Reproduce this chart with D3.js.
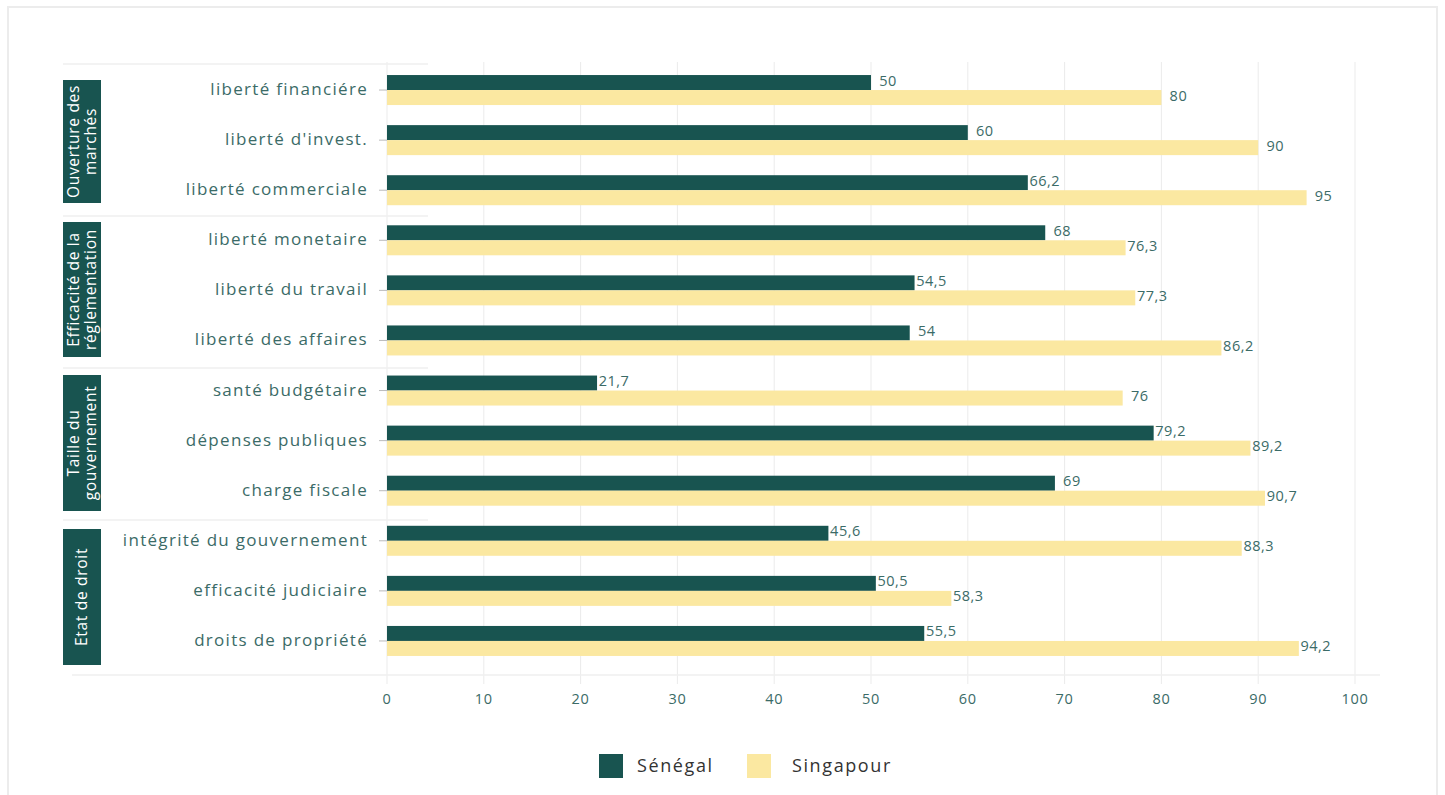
<!DOCTYPE html>
<html>
<head>
<meta charset="utf-8">
<script src="https://cdn.jsdelivr.net/npm/d3@7"></script>
<style>
  body { margin: 0; background: #fff; font-family: "Open Sans", "Noto Sans", sans-serif; }
  .frame { fill: none; stroke: #ececec; stroke-width: 2; }
  .catLabel { fill: #3b6b67; font-size: 17px; letter-spacing: 1.3px; }
  .tickLabel { fill: #3b6b67; font-size: 14.5px; letter-spacing: 0.7px; }
  .valLabel { fill: #3b6b67; font-size: 14.5px; letter-spacing: 0.5px; }
  .groupText { fill: #fff; font-size: 15.5px; letter-spacing: 0.7px; }
  .legendText { fill: #333; font-size: 18px; letter-spacing: 1.6px; }
</style>
</head>
<body>
<div class="chart"></div>
<script>
// data
var groups = ["Ouverture des marchés", "Efficacité de la réglementation", "Taille du gouvernement", "Etat de droit"];
var groupLines = [["Ouverture des", "marchés"], ["Efficacité de la", "réglementation"], ["Taille du", "gouvernement"], ["Etat de droit"]];
var categories = [
  "liberté financiére", "liberté d'invest.", "liberté commerciale",
  "liberté monetaire", "liberté du travail", "liberté des affaires",
  "santé budgétaire", "dépenses publiques", "charge fiscale",
  "intégrité du gouvernement", "efficacité judiciaire", "droits de propriété"
];
var senegal = [50, 60, 66.2, 68, 54.5, 54, 21.7, 79.2, 69, 45.6, 50.5, 55.5];
var singapour = [80, 90, 95, 76.3, 77.3, 86.2, 76, 89.2, 90.7, 88.3, 58.3, 94.2];
var seriesNames = ["Sénégal", "Singapour"];
var seriesColors = ["#185450", "#fbe8a1"];
var xTicks = [0, 10, 20, 30, 40, 50, 60, 70, 80, 90, 100];

/*--------------------------------------------------------------------------
+++ chart space
--------------------------------------------------------------------------*/
var svgWidth = 1445, svgHeight = 795;
var svg = d3.select(".chart").append("svg")
  .attr("width", svgWidth)
  .attr("height", svgHeight);

svg.append("rect").attr("class", "frame")
  .attr("x", 8).attr("y", 7).attr("width", 1429).attr("height", 800);

var x = d3.scaleLinear().domain([0, 100]).range([387, 1355]);
var y = d3.scaleBand().domain(categories).range([65, 666]).paddingInner(0).paddingOuter(0);
var barH = 15;

// grid lines
svg.append("g").selectAll("line")
  .data(xTicks).enter().append("line")
  .attr("x1", d => x(d)).attr("x2", d => x(d))
  .attr("y1", 62).attr("y2", 684)
  .attr("stroke", "#ebebeb").attr("stroke-width", 1);

// axis baseline
svg.append("line")
  .attr("x1", 72).attr("x2", 1380).attr("y1", 675).attr("y2", 675)
  .attr("stroke", "#efefef").attr("stroke-width", 1.5);

// x tick labels
svg.append("g").selectAll("text")
  .data(xTicks).enter().append("text")
  .attr("class", "tickLabel")
  .attr("x", d => x(d)).attr("y", 704)
  .attr("text-anchor", "middle")
  .text(d => d);

/*--------------------------------------------------------------------------
+++ group separators and boxes
--------------------------------------------------------------------------*/
var sepY = [64, 216, 368, 520];
var boxTop = [80, 222, 375, 529];
var boxBottom = [203, 357, 511, 665];

svg.append("g").selectAll("line")
  .data(sepY).enter().append("line")
  .attr("x1", 63).attr("x2", 428)
  .attr("y1", d => d).attr("y2", d => d)
  .attr("stroke", "#efefef").attr("stroke-width", 1.5);

var boxes = svg.append("g").selectAll("g")
  .data(groups).enter().append("g");

boxes.append("rect")
  .attr("x", 63).attr("width", 38)
  .attr("y", (d, i) => boxTop[i])
  .attr("height", (d, i) => boxBottom[i] - boxTop[i])
  .attr("fill", "#185450");

boxes.each(function (d, i) {
  var cy = (boxTop[i] + boxBottom[i]) / 2;
  var lines = groupLines[i];
  var t = d3.select(this).append("text")
    .attr("class", "groupText")
    .attr("text-anchor", "middle")
    .attr("transform", `translate(82, ${cy}) rotate(-90)`);
  lines.forEach(function (l, j) {
    t.append("tspan")
      .attr("x", 0)
      .attr("dy", j === 0 ? (lines.length === 1 ? 5 : -3) : 17)
      .text(l);
  });
});

/*--------------------------------------------------------------------------
+++ category labels and ticks
--------------------------------------------------------------------------*/
var cats = svg.append("g").selectAll("g")
  .data(categories).enter().append("g")
  .attr("transform", d => `translate(0, ${y(d) + y.bandwidth() / 2})`);

cats.append("line")
  .attr("x1", 379).attr("x2", 387).attr("y1", 0).attr("y2", 0)
  .attr("stroke", "#bbb").attr("stroke-width", 1);

cats.append("text")
  .attr("class", "catLabel")
  .attr("x", 368).attr("y", 5)
  .attr("text-anchor", "end")
  .text(d => d);

/*--------------------------------------------------------------------------
+++ bars
--------------------------------------------------------------------------*/
var seriesData = [senegal, singapour];
seriesData.forEach(function (vals, s) {
  var g = svg.append("g");
  g.selectAll("rect")
    .data(vals).enter().append("rect")
    .attr("x", x(0))
    .attr("y", (d, i) => y(categories[i]) + y.bandwidth() / 2 - barH + s * barH)
    .attr("width", d => x(d) - x(0))
    .attr("height", barH)
    .attr("fill", seriesColors[s]);

  g.selectAll("text")
    .data(vals).enter().append("text")
    .attr("class", "valLabel")
    .attr("x", d => x(d) + 17)
    .attr("y", (d, i) => y(categories[i]) + y.bandwidth() / 2 - barH / 2 + s * barH + 3)
    .attr("text-anchor", "middle")
    .text(d => String(d).replace(".", ","));
});

/*--------------------------------------------------------------------------
+++ legend
--------------------------------------------------------------------------*/
var legendX = [599, 747];
var legend = svg.append("g").selectAll("g")
  .data(seriesNames).enter().append("g")
  .attr("transform", (d, i) => `translate(${legendX[i]}, 754)`);

legend.append("rect")
  .attr("width", 24).attr("height", 24)
  .attr("fill", (d, i) => seriesColors[i]);

legend.append("text")
  .attr("class", "legendText")
  .attr("x", (d, i) => i === 0 ? 38 : 45)
  .attr("y", 18)
  .text(d => d);
</script>
</body>
</html>
